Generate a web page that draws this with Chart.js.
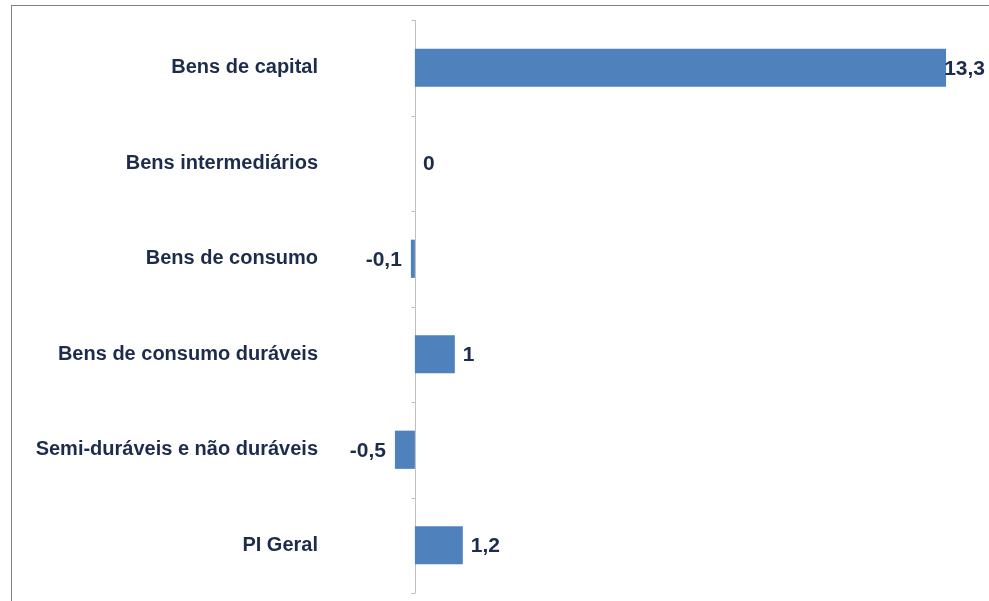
<!DOCTYPE html>
<html lang="pt">
<head>
<meta charset="utf-8">
<title>Produção industrial por categoria</title>
<script src="https://cdn.jsdelivr.net/npm/chart.js@4"></script>
<style>
  html, body { margin: 0; padding: 0; background: #fff; }
  #wrap { position: relative; width: 989px; height: 601px; overflow: hidden; }
  #chart { position: absolute; left: 0; top: 0; }
  #frame {
    position: absolute; left: 11px; top: 5px; width: 1000px; height: 700px;
    border-left: 1px solid #808080; border-top: 1px solid #808080;
    pointer-events: none;
  }
</style>
</head>
<body>
<div id="wrap">
  <canvas id="chart" width="989" height="601"></canvas>
  <div id="frame"></div>
</div>
<script>
// categorias e valores (%)
const categories = [
  "Bens de capital",
  "Bens intermediários",
  "Bens de consumo",
  "Bens de consumo duráveis",
  "Semi-duráveis e não duráveis",
  "PI Geral",
];
const values = [13.3, 0, -0.1, 1, -0.5, 1.2];

const BAR = "#4f81bd";
const TEXT = "#1d2c4c";
const AXIS = "#bfbfbf";

const fmt = (v) => String(v).replace(".", ",");

// eixo vertical no zero + marcas entre categorias
const zeroAxis = {
  id: "zeroAxis",
  beforeDatasetsDraw(chart) {
    const { ctx, chartArea: a, scales } = chart;
    const x0 = Math.round(scales.x.getPixelForValue(0)) + 0.5;
    const n = categories.length;
    ctx.save();
    ctx.strokeStyle = AXIS;
    ctx.lineWidth = 1;
    ctx.beginPath();
    ctx.moveTo(x0, a.top);
    ctx.lineTo(x0, a.bottom);
    for (let i = 0; i <= n; i++) {
      const y = Math.round(a.top + (i * (a.bottom - a.top)) / n) + 0.5;
      ctx.moveTo(x0 - 4, y);
      ctx.lineTo(x0, y);
    }
    ctx.stroke();
    ctx.restore();
  },
};

// rótulos de valor na ponta das barras
const valueLabels = {
  id: "valueLabels",
  afterDatasetsDraw(chart) {
    const { ctx } = chart;
    const meta = chart.getDatasetMeta(0);
    ctx.save();
    ctx.font = "bold 21px 'Liberation Sans', Arial, sans-serif";
    ctx.fillStyle = TEXT;
    ctx.textBaseline = "middle";
    meta.data.forEach((bar, i) => {
      const v = values[i];
      const t = fmt(v);
      const w = ctx.measureText(t).width;
      if (v >= 0) {
        let x = bar.x + 8;
        if (x + w > chart.width - 4) x = chart.width - 4 - w;
        ctx.textAlign = "left";
        ctx.fillText(t, x, bar.y + 1);
      } else {
        ctx.textAlign = "right";
        ctx.fillText(t, bar.x - 9, bar.y + 1);
      }
    });
    ctx.restore();
  },
};

new Chart(document.getElementById("chart"), {
  type: "bar",
  data: {
    labels: categories,
    datasets: [
      {
        data: values,
        backgroundColor: BAR,
        borderWidth: 0,
        categoryPercentage: 1,
        barPercentage: 0.4,
      },
    ],
  },
  plugins: [zeroAxis, valueLabels],
  options: {
    indexAxis: "y",
    responsive: false,
    animation: false,
    layout: { padding: { left: 0, right: 15, top: 20, bottom: 8 } },
    plugins: {
      legend: { display: false },
      tooltip: { enabled: false },
    },
    scales: {
      x: {
        display: false,
        min: -2,
        max: 14,
      },
      y: {
        afterFit: (s) => {
          s.width = 335;
          s.paddingTop = 0;
          s.paddingBottom = 0;
        },
        grid: { display: false, drawTicks: false },
        border: { display: false },
        ticks: {
          color: TEXT,
          padding: 17,
          font: { family: "'Liberation Sans', Arial, sans-serif", size: 20, weight: "bold" },
        },
      },
    },
  },
});
</script>
</body>
</html>
